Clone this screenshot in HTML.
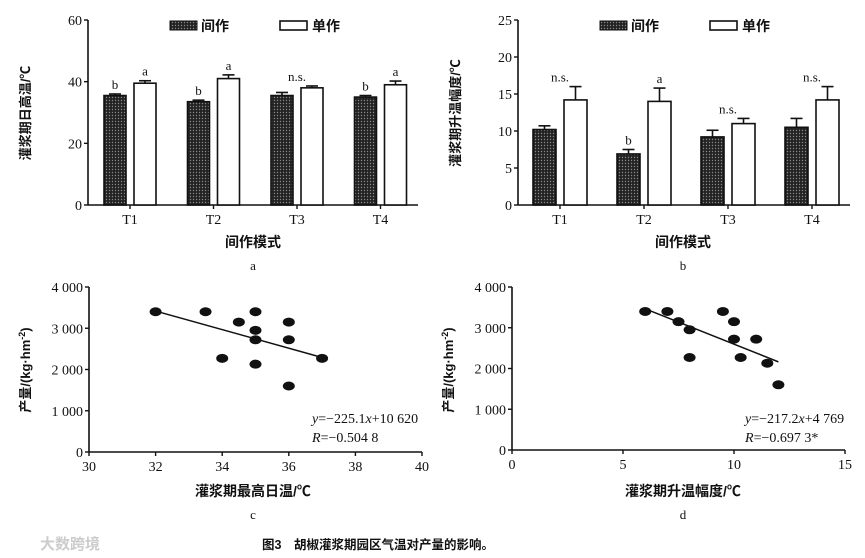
<!DOCTYPE html>
<html><head><meta charset="utf-8">
<style>
html,body{margin:0;padding:0;background:#fff;width:865px;height:558px;overflow:hidden}
svg{display:block}
text{font-family:"Liberation Serif","Noto Serif CJK SC",serif;fill:#111}
.cj{font-family:"Liberation Sans","Noto Sans CJK SC",sans-serif;font-weight:bold}
</style></head>
<body>
<svg id="fig" width="865" height="558" viewBox="0 0 865 558">
<defs>
<pattern id="dots" width="3" height="3" patternUnits="userSpaceOnUse">
<rect width="3" height="3" fill="#222"/><circle cx="1.5" cy="1.5" r="0.7" fill="#888"/>
</pattern>
</defs>
<text x="262" y="549" class="cj" font-size="12.5" font-weight="bold">图3　胡椒灌浆期园区气温对产量的影响。</text>
<text x="40" y="549" class="cj" font-size="15" style="fill:#ccc">大数跨境</text>
</svg>
<script>
// Panel a / b data
const categories = ["T1","T2","T3","T4"];
const interA = [35.5, 33.5, 35.5, 35];
const interAErr = [0.5, 0.5, 1.0, 0.5];
const monoA = [39.5, 41, 38, 39];
const monoAErr = [0.8, 1.2, 0.6, 1.2];
const interALabels = ["b","b","",  "b"];
const monoALabels = ["a","a","n.s.","a"];
const interB = [10.2, 6.9, 9.2, 10.5];
const interBErr = [0.5, 0.6, 0.9, 1.2];
const monoB = [14.2, 14.0, 11.0, 14.2];
const monoBErr = [1.8, 1.8, 0.7, 1.8];
const interBLabels = ["", "b", "", ""];
const monoBLabels = ["n.s.","a","n.s.","n.s."];
const ticksA = [0,20,40,60];
const ticksB = [0,5,10,15,20,25];
// Panel c / d data
const tempMaxC = [32, 33.5, 34.5, 35, 35, 35, 36, 36, 37, 34, 35, 36];
const yieldC = [3400, 3400, 3150, 3400, 2950, 2720, 3150, 2720, 2270, 2270, 2130, 1600];
const riseD = [6, 7, 7.5, 8, 8, 9.5, 10, 10, 11, 10.3, 11.5, 12];
const yieldD = [3400, 3400, 3150, 2950, 2270, 3400, 3150, 2720, 2720, 2270, 2130, 1600];
const fitC = [-225.1, 10620];
const fitD = [-217.2, 4769];
const ticksCx = [30,32,34,36,38,40];
const ticksDx = [0,5,10,15];
const ticksYield = [0,1000,2000,3000,4000];
const yieldLabels = ["0","1 000","2 000","3 000","4 000"];

const svg = document.getElementById('fig');
const NS = 'http://www.w3.org/2000/svg';
function mk(tag, attrs, parent){
  const e = document.createElementNS(NS, tag);
  for (const k in attrs) e.setAttribute(k, attrs[k]);
  (parent||svg).appendChild(e);
  return e;
}
function txt(x,y,s,size,anchor,cls){
  const t = mk('text',{x:x,y:y,'font-size':size,'text-anchor':anchor||'start'});
  if (cls) t.setAttribute('class',cls);
  t.textContent = s;
  return t;
}

function barPanel(o){
  const g = mk('g',{});
  
  
  const ys = v => o.y0 - (v/o.max)*(o.y0-o.y1);
  const xs = i => o.c0 + i*o.step;
  let l = mk('line',{x1:o.ax,y1:o.y1,x2:o.ax,y2:o.y0,stroke:'#111','stroke-width':1.6},g);
   
  l = mk('line',{x1:o.ax,y1:o.y0,x2:o.xend,y2:o.y0,stroke:'#111','stroke-width':1.6},g);
   
  o.ticks.forEach(t=>{
    mk('line',{x1:o.ax-4,y1:ys(t),x2:o.ax,y2:ys(t),stroke:'#111','stroke-width':1.4},g);
    const tt = txt(o.ax-6, ys(t)+5, String(t), 14, 'end');
     
  });
  categories.forEach((c,i)=>{
    const cx = xs(i);
    mk('line',{x1:cx,y1:o.y0,x2:cx,y2:o.y0+4,stroke:'#111','stroke-width':1.4},g);
    const tl = txt(cx, o.y0+19, c, 14, 'middle');
     
    const series = [[o.inter,o.interErr,o.interL,'url(#dots)',cx-o.off-o.bw],[o.mono,o.monoErr,o.monoL,'#fff',cx+o.off]];
    series.forEach(([vals,errs,labs,fill,x],si)=>{
      const v = vals[i], y = ys(v);
      const r = mk('rect',{x:x,y:y,width:o.bw,height:o.y0-y,fill:fill,stroke:'#111','stroke-width':1.6},g);
      
      
      const ey = ys(v+errs[i]), mx = x+o.bw/2;
      mk('line',{x1:mx,y1:y,x2:mx,y2:ey,stroke:'#111','stroke-width':1.6},g);
      mk('line',{x1:mx-6,y1:ey,x2:mx+6,y2:ey,stroke:'#111','stroke-width':1.6},g);
      if (labs[i]){
        const lx = (labs[i]==='n.s.') ? cx : mx;
        const at = txt(lx, ey-5, labs[i], 13, 'middle');
         
      }
    });
  });
  const lg = mk('g',{},g);
   
  mk('rect',{x:o.lx,y:21,width:27,height:9,fill:'url(#dots)',stroke:'#111','stroke-width':1},lg);
  txt(o.lx+31,31,'间作',14,'start','cj');
  mk('rect',{x:o.lx+110,y:21,width:27,height:9,fill:'#fff',stroke:'#111','stroke-width':1.6},lg);
  txt(o.lx+142,31,'单作',14,'start','cj');
  const yt = txt(0,0,o.ylabel,13,'middle','cj');
  yt.setAttribute('transform','translate('+o.ylx+','+o.yly+') rotate(-90)');
   
  const xt = txt(o.xlx,247,'间作模式',14,'middle','cj');
   
  const pl = txt(o.xlx,270,o.panel,13,'middle');
   
}

barPanel({name:'chart-a',ax:88,xend:418,y0:205,y1:20,max:60,c0:130,step:83.5,bw:22,off:4,
  inter:interA,interErr:interAErr,mono:monoA,monoErr:monoAErr,interL:interALabels,monoL:monoALabels,
  ticks:ticksA,lx:170,ylabel:'灌浆期日高温/℃',ylx:30,yly:113,xlx:253,panel:'a'});
barPanel({name:'chart-b',ax:518,xend:850,y0:205,y1:20,max:25,c0:560,step:84,bw:23,off:4,
  inter:interB,interErr:interBErr,mono:monoB,monoErr:monoBErr,interL:interBLabels,monoL:monoBLabels,
  ticks:ticksB,lx:600,ylabel:'灌浆期升温幅度/℃',ylx:460,yly:113,xlx:683,panel:'b'});

function scatterPanel(o){
  const g = mk('g',{});
  
  
  const xs = v => o.ax + (v-o.xmin)/(o.xmax-o.xmin)*(o.xend-o.ax);
  const ys = v => o.y0 - v/4000*(o.y0-o.y1);
  let l = mk('line',{x1:o.ax,y1:o.y1,x2:o.ax,y2:o.y0,stroke:'#111','stroke-width':1.6},g);
   
  l = mk('line',{x1:o.ax,y1:o.y0,x2:o.xend,y2:o.y0,stroke:'#111','stroke-width':1.6},g);
   
  ticksYield.forEach((t,i)=>{
    mk('line',{x1:o.ax-4,y1:ys(t),x2:o.ax,y2:ys(t),stroke:'#111','stroke-width':1.4},g);
    const tt = txt(o.ax-6, ys(t)+5, yieldLabels[i], 14, 'end');
     
  });
  o.xt.forEach(t=>{
    mk('line',{x1:xs(t),y1:o.y0,x2:xs(t),y2:o.y0+4,stroke:'#111','stroke-width':1.4},g);
    const tt = txt(xs(t), o.y0+19, String(t), 14, 'middle');
     
  });
  const x1 = Math.min(...o.xv), x2 = Math.max(...o.xv);
  const f = x => o.fit[0]*x + o.fit[1];
  const fl = mk('line',{x1:xs(x1),y1:ys(f(x1)),x2:xs(x2),y2:ys(f(x2)),stroke:'#111','stroke-width':1.5},g);
   
  o.xv.forEach((x,i)=>{
    const p = mk('ellipse',{cx:xs(x),cy:ys(o.yv[i]),rx:6,ry:4.5,fill:'#111'},g);
     
  });
  const eq = txt(o.ex,423,'',14,'start');
  eq.innerHTML = '<tspan font-style="italic">y</tspan>=−'+Math.abs(o.fit[0])+'<tspan font-style="italic">x</tspan>+'+o.fitTxt;
   
  const rt = txt(o.ex,442,'',14,'start');
  rt.innerHTML = '<tspan font-style="italic">R</tspan>=−'+o.rTxt;
   
  const yt = txt(0,0,'',13,'middle','cj');
  yt.innerHTML = '产量/(kg·hm<tspan baseline-shift="super" font-size="9">-2</tspan>)';
  yt.setAttribute('transform','translate('+o.ylx+',370) rotate(-90)');
   
  const xt = txt(o.xlx,496,o.xlabel,14,'middle','cj');
   
  const pl = txt(o.xlx,519,o.panel,13,'middle');
   
}
scatterPanel({name:'chart-c',ax:89,xend:422,xmin:30,xmax:40,y0:452,y1:287,xt:ticksCx,xv:tempMaxC,yv:yieldC,
  fit:fitC,fitTxt:'10 620',rTxt:'0.504 8',ex:312,ylx:30,xlx:253,xlabel:'灌浆期最高日温/℃',panel:'c'});
scatterPanel({name:'chart-d',ax:512,xend:845,xmin:0,xmax:15,y0:450,y1:287,xt:ticksDx,xv:riseD,yv:yieldD,
  fit:fitD,fitTxt:'4 769',rTxt:'0.697 3*',ex:745,ylx:453,xlx:683,xlabel:'灌浆期升温幅度/℃',panel:'d'});
</script>
</body></html>
